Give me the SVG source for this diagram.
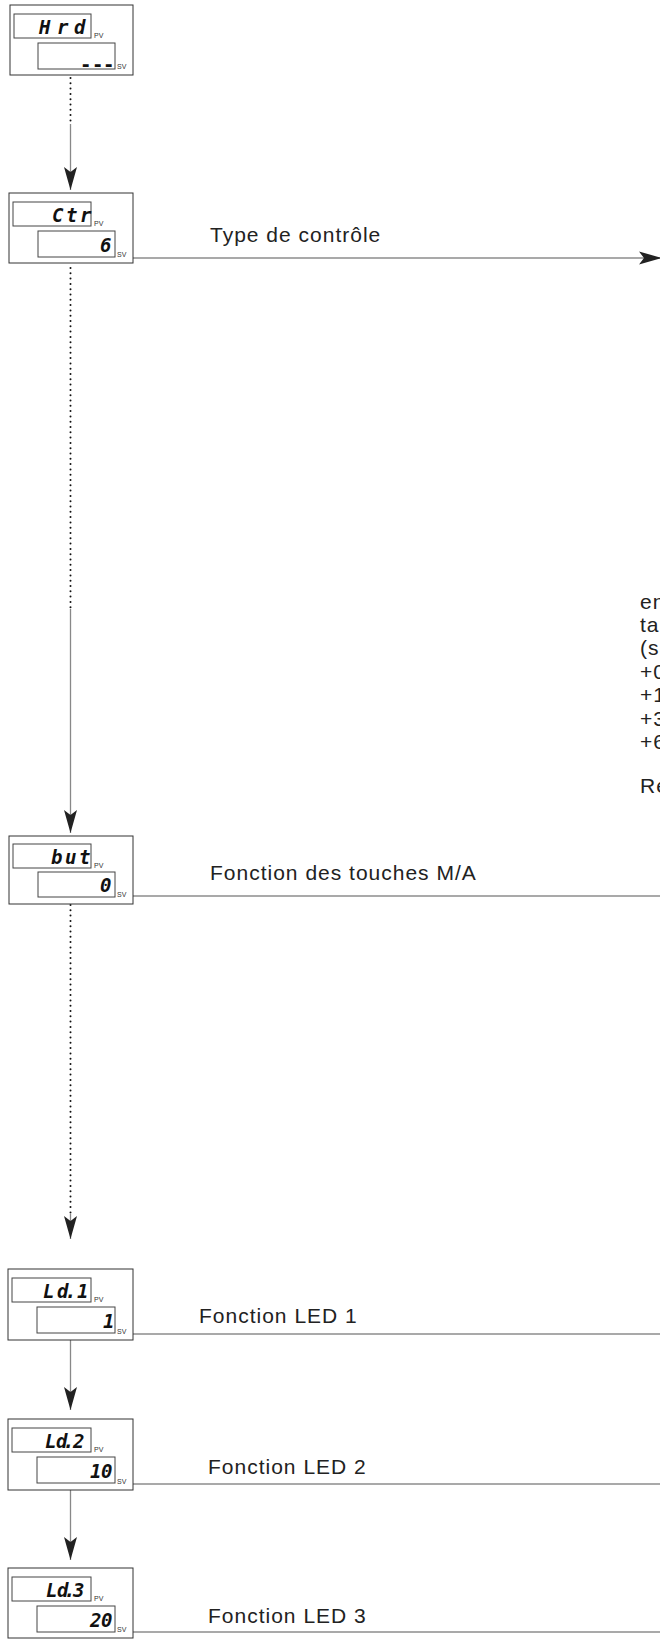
<svg xmlns="http://www.w3.org/2000/svg" width="660" height="1639" viewBox="0 0 660 1639">
<style>
.outer{fill:#fff;stroke:#333;stroke-width:1}
.inner{fill:#fff;stroke:#444;stroke-width:1}
.disp{font-family:"DejaVu Sans Mono",monospace;font-style:italic;font-weight:bold;font-size:19px;fill:#111}
.dash{font-family:"DejaVu Sans Mono",monospace;font-weight:bold;font-size:19px;fill:#111}
.tiny{font-family:"Liberation Sans",Arial,sans-serif;font-size:7px;fill:#333}
.lbl{font-family:"Liberation Sans",Arial,sans-serif;font-size:21px;letter-spacing:1px;fill:#222}
.dot{stroke:#111;stroke-width:2;stroke-dasharray:0 5.3;stroke-linecap:round;fill:none}
.solid{stroke:#888;stroke-width:1.3;fill:none}
.hline{stroke:#555;stroke-width:1.2;fill:none}
</style>
<defs>
<marker id="ah" markerUnits="userSpaceOnUse" viewBox="-24 -8 25 16" markerWidth="25" markerHeight="16" refX="0" refY="0" orient="auto">
<path d="M0,0 L-23,-6.5 L-18,0 L-23,6.5 Z" fill="#222"/>
</marker>
</defs>
<rect width="660" height="1639" fill="#fff"/>

<g id="connectors">
<path class="dot" d="M70.5,78 V124"/>
<path class="solid" d="M70.5,124 V190" marker-end="url(#ah)"/>
<path class="hline" d="M133,258 H662" marker-end="url(#ah)"/>
<path class="dot" d="M70.5,268 V609"/>
<path class="solid" d="M70.5,609 V833" marker-end="url(#ah)"/>
<path class="hline" d="M133,896 H660"/>
<path class="dot" d="M70.5,905 V1214"/>
<path class="solid" d="M70.5,1214 V1239" marker-end="url(#ah)"/>
<path class="hline" d="M133,1334 H660"/>
<path class="solid" d="M70.5,1340 V1410" marker-end="url(#ah)"/>
<path class="hline" d="M133,1484 H660"/>
<path class="solid" d="M70.5,1490 V1560" marker-end="url(#ah)"/>
<path class="hline" d="M133,1632 H660"/>
</g>

<g id="node-hrd" transform="translate(0,5)">
<rect class="outer" x="10" y="0" width="123" height="70"/>
<rect class="inner" x="14" y="9" width="77" height="24"/>
<text class="tiny" x="94" y="33">PV</text>
<rect class="inner" x="38" y="38" width="77" height="26"/>
<text class="tiny" x="117" y="64">SV</text>
<text class="disp" x="39 57 74" y="29">Hrd</text>
<text class="dash" x="80 92 103" y="66">---</text>
</g>

<g id="node-ctr" transform="translate(0,193)">
<rect class="outer" x="9" y="0" width="124" height="70"/>
<rect class="inner" x="13" y="9" width="78" height="24"/>
<text class="tiny" x="94" y="33">PV</text>
<rect class="inner" x="38" y="38" width="77" height="26"/>
<text class="tiny" x="117" y="64">SV</text>
<text class="disp" x="52 66 80" y="29">Ctr</text>
<text class="disp" x="100" y="59">6</text>
</g>
<text id="label-ctr" class="lbl" x="210" y="242">Type de contrôle</text>

<g id="note-right">
<text class="lbl" x="640" y="609">en</text>
<text class="lbl" x="640" y="632">tab</text>
<text class="lbl" x="640" y="655">(sa</text>
<text class="lbl" x="640" y="679">+0</text>
<text class="lbl" x="640" y="702">+1</text>
<text class="lbl" x="640" y="726">+3</text>
<text class="lbl" x="640" y="749">+6</text>
<text class="lbl" x="640" y="793">Re</text>
</g>

<g id="node-but" transform="translate(0,836)">
<rect class="outer" x="9" y="0" width="124" height="68"/>
<rect class="inner" x="13" y="8" width="78" height="24"/>
<text class="tiny" x="94" y="32">PV</text>
<rect class="inner" x="38" y="36" width="77" height="25"/>
<text class="tiny" x="117" y="61">SV</text>
<text class="disp" x="51 65 79" y="28">but</text>
<text class="disp" x="100" y="56">0</text>
</g>
<text id="label-but" class="lbl" x="210" y="880">Fonction des touches M/A</text>

<g id="node-ld1" transform="translate(0,1269)">
<rect class="outer" x="8" y="0" width="125" height="71"/>
<rect class="inner" x="12" y="9" width="79" height="24"/>
<text class="tiny" x="94" y="33">PV</text>
<rect class="inner" x="37" y="38" width="78" height="26"/>
<text class="tiny" x="117" y="65">SV</text>
<text class="disp" x="43 57 65 77" y="29">Ld.1</text>
<text class="disp" x="103" y="59">1</text>
</g>
<text id="label-ld1" class="lbl" x="199" y="1323">Fonction LED 1</text>

<g id="node-ld2" transform="translate(0,1419)">
<rect class="outer" x="8" y="0" width="125" height="71"/>
<rect class="inner" x="12" y="9" width="79" height="24"/>
<text class="tiny" x="94" y="33">PV</text>
<rect class="inner" x="37" y="38" width="78" height="26"/>
<text class="tiny" x="117" y="65">SV</text>
<text class="disp" x="45 56 63 73" y="29">Ld.2</text>
<text class="disp" x="90 101" y="59">10</text>
</g>
<text id="label-ld2" class="lbl" x="208" y="1474">Fonction LED 2</text>

<g id="node-ld3" transform="translate(0,1568)">
<rect class="outer" x="8" y="0" width="125" height="70"/>
<rect class="inner" x="12" y="9" width="79" height="24"/>
<text class="tiny" x="94" y="33">PV</text>
<rect class="inner" x="37" y="38" width="78" height="26"/>
<text class="tiny" x="117" y="64">SV</text>
<text class="disp" x="46 57 64 73" y="29">Ld.3</text>
<text class="disp" x="90 101" y="59">20</text>
</g>
<text id="label-ld3" class="lbl" x="208" y="1623">Fonction LED 3</text>
</svg>
